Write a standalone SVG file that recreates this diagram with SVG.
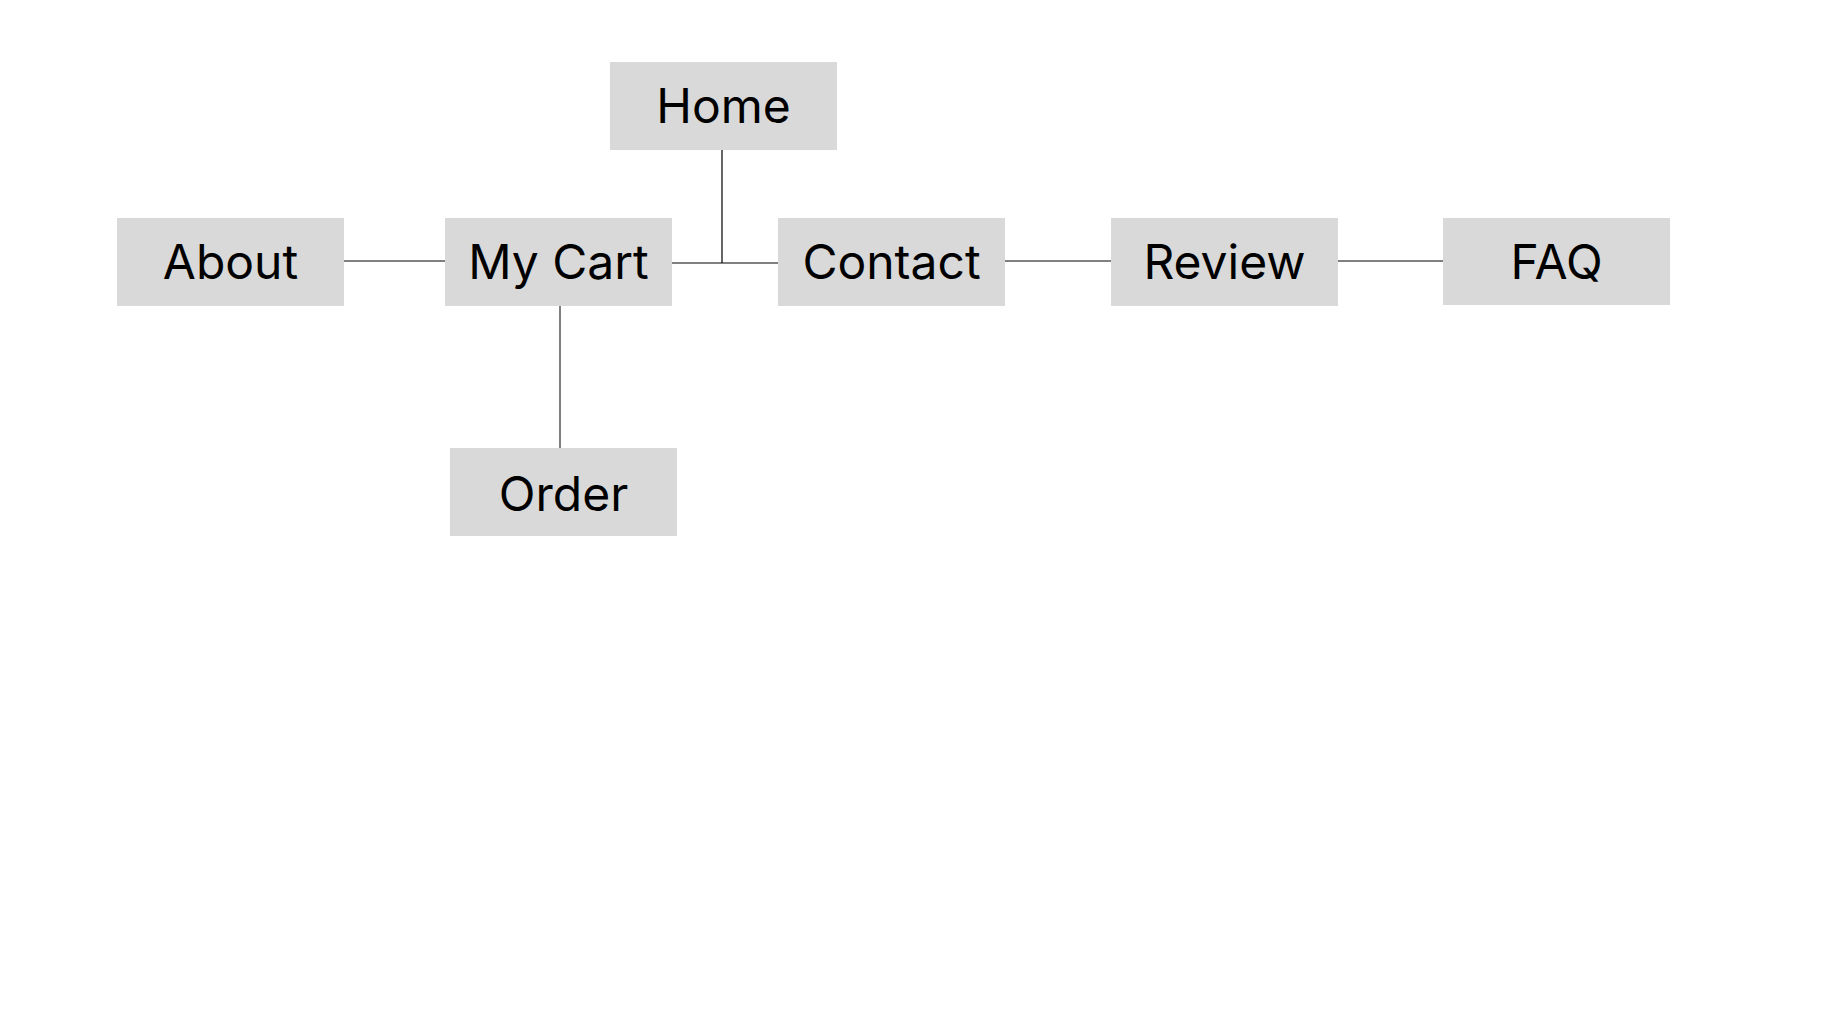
<svg xmlns="http://www.w3.org/2000/svg" width="1840" height="1024" viewBox="0 0 1840 1024">
<style>
.box{fill:#d9d9d9}
.lbl{font-family:Inter,"Noto Sans",sans-serif;font-size:48px;fill:#000;text-anchor:middle}
.c{stroke:#808080;stroke-width:2;fill:none}
.v{stroke:#000;stroke-width:1.2;fill:none}
</style>
<rect width="1840" height="1024" fill="#fff"/>
<g id="connectors">
<line class="c" x1="343" y1="261" x2="449" y2="261"/>
<line class="c" x1="670" y1="263" x2="778" y2="263"/>
<line class="v" x1="722" y1="150" x2="722" y2="263"/>
<line class="c" x1="560" y1="304" x2="560" y2="448"/>
<line class="c" x1="1004" y1="261" x2="1111" y2="261"/>
<line class="c" x1="1338" y1="261" x2="1443" y2="261"/>
</g>
<g id="home"><rect class="box" x="610" y="62" width="227" height="88"/><text class="lbl" x="723.5" y="123">Home</text></g>
<g id="about"><rect class="box" x="117" y="218" width="227" height="88"/><text class="lbl" x="230.5" y="279">About</text></g>
<g id="mycart"><rect class="box" x="445" y="218" width="227" height="88"/><text class="lbl" x="558.5" y="279">My Cart</text></g>
<g id="contact"><rect class="box" x="778" y="218" width="227" height="88"/><text class="lbl" x="891.5" y="279">Contact</text></g>
<g id="review"><rect class="box" x="1111" y="218" width="227" height="88"/><text class="lbl" x="1224.5" y="279">Review</text></g>
<g id="faq"><rect class="box" x="1443" y="218" width="227" height="87"/><text class="lbl" x="1556.5" y="279">FAQ</text></g>
<g id="order"><rect class="box" x="450" y="448" width="227" height="88"/><text class="lbl" x="563.5" y="511">Order</text></g>
</svg>
